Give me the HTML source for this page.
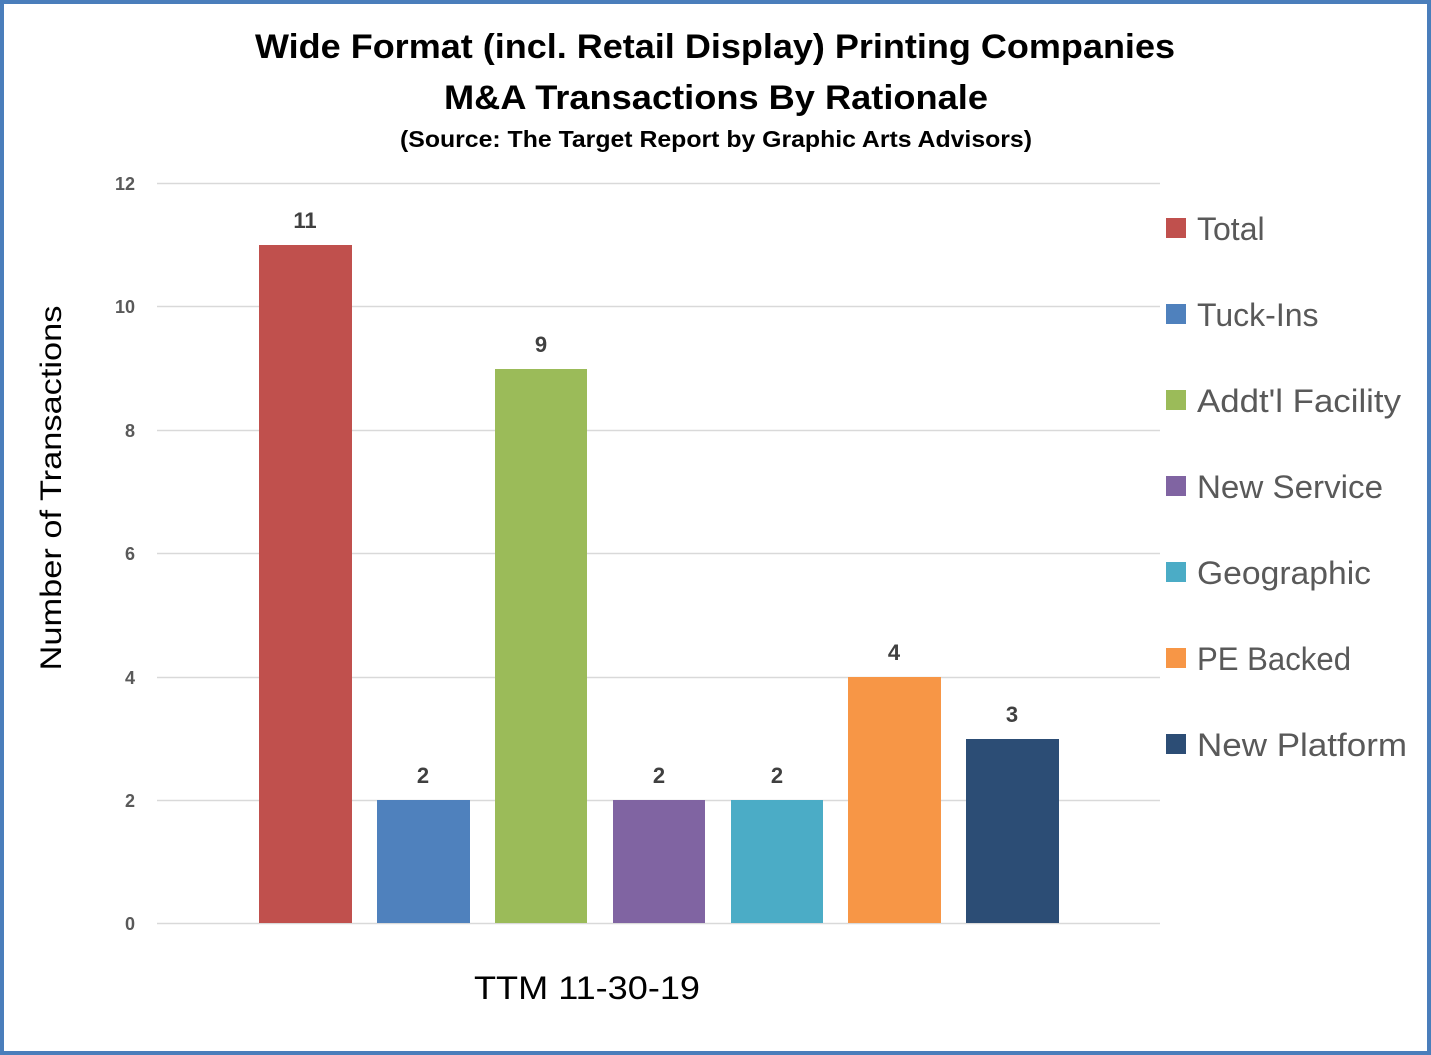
<!DOCTYPE html>
<html><head><meta charset="utf-8"><style>
html,body{margin:0;padding:0;background:#fff;}
svg{display:block;}
text{font-family:"Liberation Sans",Arial,sans-serif;}
</style></head><body>
<svg width="1431" height="1055" viewBox="0 0 1431 1055" xmlns="http://www.w3.org/2000/svg">
<rect x="0" y="0" width="1431" height="1055" fill="#fff"/>
<rect x="2" y="2" width="1427" height="1051" fill="none" stroke="#4a7ebb" stroke-width="4"/>
<text x="715" y="58" text-anchor="middle" font-size="34" font-weight="bold" fill="#000" textLength="920" lengthAdjust="spacingAndGlyphs">Wide Format (incl. Retail Display) Printing Companies</text>
<text x="716" y="109" text-anchor="middle" font-size="34" font-weight="bold" fill="#000" textLength="544" lengthAdjust="spacingAndGlyphs">M&amp;A Transactions By Rationale</text>
<text x="716" y="147" text-anchor="middle" font-size="23" font-weight="bold" fill="#000" textLength="632" lengthAdjust="spacingAndGlyphs">(Source: The Target Report by Graphic Arts Advisors)</text>
<g stroke="#d9d9d9" stroke-width="1.5">
<line x1="157" x2="1160" y1="183.5" y2="183.5"/>
<line x1="157" x2="1160" y1="306.5" y2="306.5"/>
<line x1="157" x2="1160" y1="430.5" y2="430.5"/>
<line x1="157" x2="1160" y1="553.5" y2="553.5"/>
<line x1="157" x2="1160" y1="677.5" y2="677.5"/>
<line x1="157" x2="1160" y1="800.5" y2="800.5"/>
<line x1="157" x2="1160" y1="923.5" y2="923.5"/>
</g>
<g font-size="18" font-weight="bold" fill="#595959" text-anchor="end">
<text x="135" y="190">12</text><text x="135" y="313">10</text><text x="135" y="437">8</text>
<text x="135" y="560">6</text><text x="135" y="684">4</text><text x="135" y="807">2</text><text x="135" y="930">0</text>
</g>
<text transform="translate(61,488) rotate(-90)" text-anchor="middle" font-size="30" fill="#000" textLength="365" lengthAdjust="spacingAndGlyphs">Number of Transactions</text>
<rect x="259" y="245" width="93" height="678" fill="#c0504d"/>
<rect x="377" y="800" width="93" height="123" fill="#4f81bd"/>
<rect x="495" y="369" width="92" height="554" fill="#9bbb59"/>
<rect x="613" y="800" width="92" height="123" fill="#8064a2"/>
<rect x="731" y="800" width="92" height="123" fill="#4bacc6"/>
<rect x="848" y="677" width="93" height="246" fill="#f79646"/>
<rect x="966" y="739" width="93" height="184" fill="#2c4d75"/>
<g font-size="22" font-weight="bold" fill="#404040" text-anchor="middle">
<text x="305" y="228">11</text><text x="423" y="783">2</text><text x="541" y="352">9</text>
<text x="659" y="783">2</text><text x="777" y="783">2</text><text x="894" y="660">4</text><text x="1012" y="722">3</text>
</g>
<text x="587" y="999" text-anchor="middle" font-size="32" fill="#000" textLength="226" lengthAdjust="spacingAndGlyphs">TTM 11-30-19</text>
<g font-size="32" fill="#595959">
<rect x="1166" y="218" width="20" height="20" fill="#c0504d"/><text x="1197" y="240">Total</text>
<rect x="1166" y="304" width="20" height="20" fill="#4f81bd"/><text x="1197" y="326">Tuck-Ins</text>
<rect x="1166" y="390" width="20" height="20" fill="#9bbb59"/><text x="1197" y="412" textLength="204" lengthAdjust="spacingAndGlyphs">Addt'l Facility</text>
<rect x="1166" y="476" width="20" height="20" fill="#8064a2"/><text x="1197" y="498" textLength="186" lengthAdjust="spacingAndGlyphs">New Service</text>
<rect x="1166" y="562" width="20" height="20" fill="#4bacc6"/><text x="1197" y="584" textLength="174" lengthAdjust="spacingAndGlyphs">Geographic</text>
<rect x="1166" y="648" width="20" height="20" fill="#f79646"/><text x="1197" y="670" textLength="154" lengthAdjust="spacingAndGlyphs">PE Backed</text>
<rect x="1166" y="734" width="20" height="20" fill="#2c4d75"/><text x="1197" y="756" textLength="210" lengthAdjust="spacingAndGlyphs">New Platform</text>
</g>
</svg>
</body></html>
